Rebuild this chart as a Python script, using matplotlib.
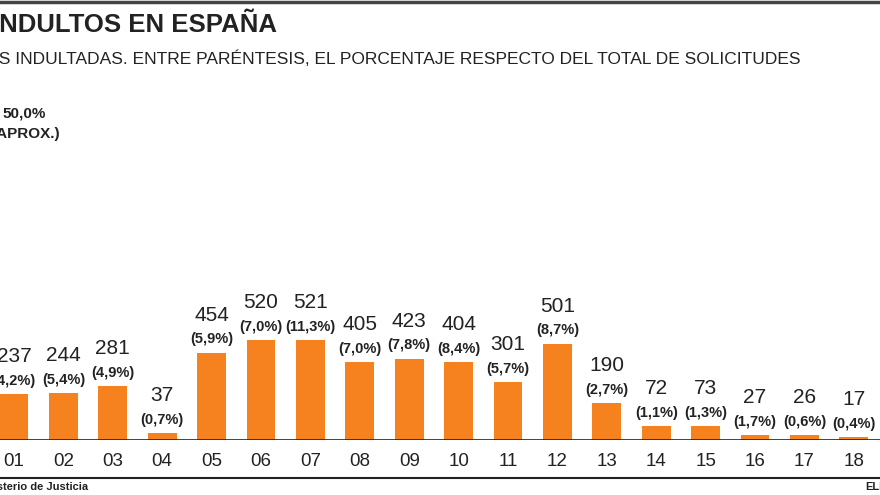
import matplotlib
matplotlib.use("Agg")
import matplotlib.pyplot as plt
import numpy as np

# Indultos concedidos por año (2001-2018)
years = ["01", "02", "03", "04", "05", "06", "07", "08", "09",
         "10", "11", "12", "13", "14", "15", "16", "17", "18"]
indultos = [237, 244, 281, 37, 454, 520, 521, 405, 423,
            404, 301, 501, 190, 72, 73, 27, 26, 17]
porcentajes = ["(4,2%)", "(5,4%)", "(4,9%)", "(0,7%)", "(5,9%)", "(7,0%)",
               "(11,3%)", "(7,0%)", "(7,8%)", "(8,4%)", "(5,7%)", "(8,7%)",
               "(2,7%)", "(1,1%)", "(1,3%)", "(1,7%)", "(0,6%)", "(0,4%)"]

ORANGE = "#F5821F"
DARK = "#222222"
NARROW = ["Liberation Sans Narrow", "Liberation Sans", "DejaVu Sans"]

plt.rcParams["font.family"] = ["Liberation Sans", "DejaVu Sans"]

W, H = 880, 495
fig = plt.figure(figsize=(W / 100, H / 100), dpi=100)
fig.patch.set_facecolor("white")


def fx(px):
    return px / W


def fy(py):
    return 1 - py / H


# chart area: baseline at y=440px, 300px tall
ax = fig.add_axes([0, fy(440), 1, 300 / H])
x = np.arange(1, len(years) + 1)
ax.bar(x, indultos, width=0.58, color=ORANGE, zorder=2)
ax.set_xlim(0.717, 18.53)
ax.set_ylim(0, 1560)
ax.axhline(0, color=DARK, lw=1.2, zorder=3)

for xi, v, p in zip(x, indultos, porcentajes):
    ax.annotate(p, (xi, v), xytext=(0, 9.5), textcoords="offset points",
                ha="center", va="center", fontsize=10.5, fontweight="bold",
                family=NARROW, color=DARK)
    ax.annotate(str(v), (xi, v), xytext=(0, 27), textcoords="offset points",
                ha="center", va="center", fontsize=15, color=DARK)

ax.set_xticks(x)
ax.set_xticklabels(years, fontsize=13.5, color=DARK)
ax.tick_params(axis="x", length=0, pad=9)
ax.set_yticks([])
for s in ax.spines.values():
    s.set_visible(False)
ax.patch.set_alpha(0)

# rules
fig.add_artist(plt.Line2D([0, 1], [fy(1.5), fy(1.5)], color="#444444", lw=2.5))
fig.add_artist(plt.Line2D([0, 1], [fy(478), fy(478)], color=DARK, lw=1.5))

# texts (left part cut off as in the original layout)
fig.text(fx(277), fy(25), "INDULTOS EN ESPAÑA", ha="right", va="center",
         fontsize=18.5, fontweight="bold", color=DARK)
fig.text(fx(800), fy(59),
         "PERSONAS INDULTADAS. ENTRE PARÉNTESIS, EL PORCENTAJE RESPECTO "
         "DEL TOTAL DE SOLICITUDES",
         ha="right", va="center", fontsize=12.5, family=NARROW, color=DARK)
fig.text(fx(46), fy(113), "50,0%", ha="right", va="center", fontsize=11,
         fontweight="bold", family=NARROW, color=DARK)
fig.text(fx(60), fy(134), "(APROX.)", ha="right", va="center", fontsize=11,
         fontweight="bold", family=NARROW, color=DARK)
fig.text(fx(88), fy(487), "Fuente: Ministerio de Justicia", ha="right",
         va="center", fontsize=8, fontweight="bold", color=DARK)
fig.text(fx(865), fy(487), "ELDIARIO.ES", ha="left", va="center",
         fontsize=8, fontweight="bold", color=DARK)

fig.savefig("out.png", dpi=100)
